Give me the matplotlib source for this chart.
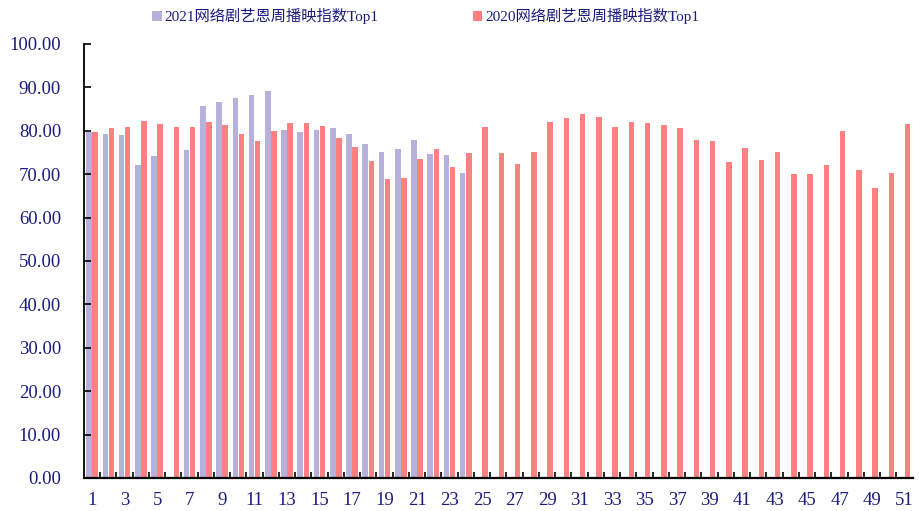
import numpy as np
import matplotlib
matplotlib.use("Agg")
import matplotlib.pyplot as plt
from matplotlib.ticker import FixedLocator, FormatStrFormatter

weeks = list(range(1, 52))
tick_labels = [str(w) for w in range(1, 52, 2)]

s2021_name = "2021网络剧艺恩周播映指数Top1"
s2020_name = "2020网络剧艺恩周播映指数Top1"

vals_2021 = [79.6, 79.3, 79.0, 72.0, 74.2, np.nan, 75.6, 85.8, 86.7, 87.6,
             88.3, 89.2, 80.2, 79.6, 80.2, 80.6, 79.3, 77.0, 75.2, 75.7,
             77.9, 74.7, 74.4, 70.3] + [np.nan] * 27

vals_2020 = [79.7, 80.7, 80.9, 82.3, 81.6, 80.9, 80.9, 82.1, 81.4, 79.3,
             77.7, 80.0, 81.9, 81.7, 81.2, 78.4, 76.2, 73.1, 68.8, 69.2,
             73.4, 75.7, 71.6, 74.9, 80.9, 74.9, 72.4, 75.1, 82.0, 82.9,
             83.9, 83.2, 80.9, 82.0, 81.8, 81.4, 80.7, 77.9, 77.6, 72.7,
             76.0, 73.3, 75.1, 70.0, 70.0, 72.2, 79.9, 71.0, 66.8, 70.3,
             81.6]

fam = ['Liberation Serif', 'Noto Sans CJK SC', 'DejaVu Sans']
plt.rcParams['font.family'] = fam
txt_color = '#1c1c7e'
c2021 = '#b7b0da'
c2020 = '#ff8080'

fig = plt.figure(figsize=(9.2, 5.11), dpi=100)
ax = fig.add_axes([0.0913, 0.0646, 0.9007, 0.8494])

x = np.array(weeks, dtype=float)
w = 0.34
off = 0.19
ax.bar(x - off, vals_2021, width=w, color=c2021, label=s2021_name)
ax.bar(x + off, vals_2020, width=w, color=c2020, label=s2020_name)

ax.set_xlim(0.5, 51.5)
ax.set_ylim(0, 100)
ax.yaxis.set_major_locator(FixedLocator(np.arange(0, 101, 10)))
ax.yaxis.set_major_formatter(FormatStrFormatter('%.2f'))
ax.tick_params(axis='y', direction='in', length=5, width=1.2, color='black',
               labelsize=13.5, labelcolor=txt_color, pad=16.5)

ax.set_xticks(list(range(1, 52, 2)))
ax.set_xticklabels(tick_labels)
ax.set_xticks(np.arange(1.5, 51.5, 1.0), minor=True)
ax.tick_params(axis='x', which='major', length=0, labelsize=13.5,
               labelcolor=txt_color, pad=10)
ax.tick_params(axis='x', which='minor', direction='in', length=4, width=1.2,
               color='black')

for s in ['top', 'right']:
    ax.spines[s].set_visible(False)
ax.spines['left'].set_linewidth(1.3)
ax.spines['bottom'].set_linewidth(1.6)

leg = fig.legend(loc='center', bbox_to_anchor=(0.463, 0.968), ncol=2,
                 frameon=False, handlelength=0.6, handleheight=0.6,
                 handletextpad=0.2, columnspacing=6.2, fontsize=11)
for t in leg.get_texts():
    t.set_color(txt_color)

fig.savefig('out.png', dpi=100)
